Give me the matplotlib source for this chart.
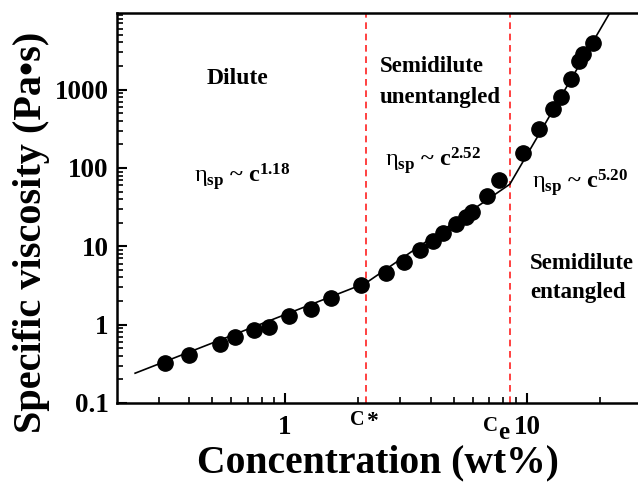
import matplotlib
matplotlib.use("Agg")
import matplotlib.pyplot as plt
from matplotlib.ticker import LogLocator, NullFormatter, FixedLocator, FixedFormatter

plt.rcParams['font.family'] = ['Liberation Serif', 'DejaVu Serif']
plt.rcParams['mathtext.fontset'] = 'custom'
plt.rcParams['mathtext.rm'] = 'Liberation Serif'
plt.rcParams['mathtext.bf'] = 'Liberation Serif:bold'
plt.rcParams['mathtext.it'] = 'Liberation Serif:italic'

# data
conc = [0.319, 0.401, 0.539, 0.621, 0.744, 0.859, 1.039, 1.28, 1.55, 2.06, 2.61,
        3.10, 3.61, 4.09, 4.50, 5.09, 5.60, 5.93, 6.84, 7.66, 9.62, 11.2, 12.8,
        13.8, 15.2, 16.4, 17.0, 18.7]
visc = [0.321, 0.405, 0.574, 0.705, 0.865, 0.944, 1.30, 1.59, 2.20, 3.21, 4.55,
        6.27, 8.9, 11.6, 14.6, 19.0, 24.0, 27.7, 44.3, 70.5, 155, 312, 559,
        793, 1378, 2330, 2856, 3935]
fit_x = [0.24, 2.16, 8.5, 22.0]
fit_y = [0.24, 3.4, 62.0, 9500.0]
c_star = 2.16
c_e = 8.5
x_ticks = [1, 10]
x_tick_labels = ['1', '10']
y_ticks = [0.1, 1, 10, 100, 1000]
y_tick_labels = ['0.1', '1', '10', '100', '1000']

W, H = 638, 486
fig = plt.figure(figsize=(W/100, H/100), dpi=100)
ax = fig.add_axes([117/W, 1-403/H, 1-117/W, (403-13)/H])

ax.plot(fit_x, fit_y, color='black', lw=1.2, zorder=2)
ax.plot(conc, visc, 'o', color='black', ms=11, zorder=3)
for c in (c_star, c_e):
    ax.axvline(c, color='#ff2020', lw=1.2, ls=(0, (4, 2.8)), zorder=1)

ax.set_xscale('log')
ax.set_yscale('log')
ax.set_xlim(0.202, 28.8)
ax.set_ylim(0.1, 9500)

ax.xaxis.set_major_locator(FixedLocator(x_ticks))
ax.xaxis.set_major_formatter(FixedFormatter(x_tick_labels))
ax.xaxis.set_minor_locator(LogLocator(base=10, subs=range(2, 10)))
ax.xaxis.set_minor_formatter(NullFormatter())
ax.yaxis.set_major_locator(FixedLocator(y_ticks))
ax.yaxis.set_major_formatter(FixedFormatter(y_tick_labels))
ax.yaxis.set_minor_locator(LogLocator(base=10, subs=range(2, 10)))
ax.yaxis.set_minor_formatter(NullFormatter())

ax.tick_params(which='major', direction='in', length=7, width=1.5, labelsize=19.5, pad=6)
ax.tick_params(which='minor', direction='in', length=4, width=1.2)
ax.tick_params(axis='x', which='major', pad=9)
for lab in ax.get_xticklabels() + ax.get_yticklabels():
    lab.set_fontweight('bold')

for s in ax.spines.values():
    s.set_linewidth(1.8)
ax.spines['right'].set_visible(False)

ax.set_xlabel('Concentration (wt%)', fontsize=28.5, fontweight='bold')
ax.set_ylabel('Specific viscosity (Pa\u2022s)', fontsize=29, fontweight='bold')
ax.xaxis.set_label_coords(0.5, (403-463)/390, transform=ax.transAxes)
ax.yaxis.set_label_coords((31-117)/521, (403-232)/390, transform=ax.transAxes)
ax.xaxis.label.set_va('center')
ax.yaxis.label.set_va('center')


def ftext(px, py, s, size=16.5, **kw):
    fig.text(px/W, 1-py/H, s, fontsize=size, fontweight='bold', **kw)

# special concentration labels on the x axis
ftext(350, 425, 'C', size=14.5, ha='left', va='baseline')
ftext(366, 427, '*', size=17, ha='left', va='baseline')
ftext(483, 431, 'C', size=15, ha='left', va='baseline')
ftext(498, 439, 'e', size=18, ha='left', va='baseline')

eta = r'$\mathrm{\eta}_{\mathbf{sp}}$ ~ $\mathbf{c}^{\mathbf{%s}}$'
ftext(237, 78, 'Dilute', size=17, ha='center', va='center')
ftext(242, 176, eta % '1.18', size=17.5, ha='center', va='center')
ftext(380, 67, 'Semidilute', ha='left', va='center')
ftext(380, 97, 'unentangled', ha='left', va='center')
ftext(385, 161, eta % '2.52', size=17.5, ha='left', va='center')
ftext(532, 182, eta % '5.20', size=17.5, ha='left', va='center')
ftext(530, 263, 'Semidilute', ha='left', va='center')
ftext(530, 292, 'entangled', ha='left', va='center')

fig.savefig('out.png', dpi=100)
